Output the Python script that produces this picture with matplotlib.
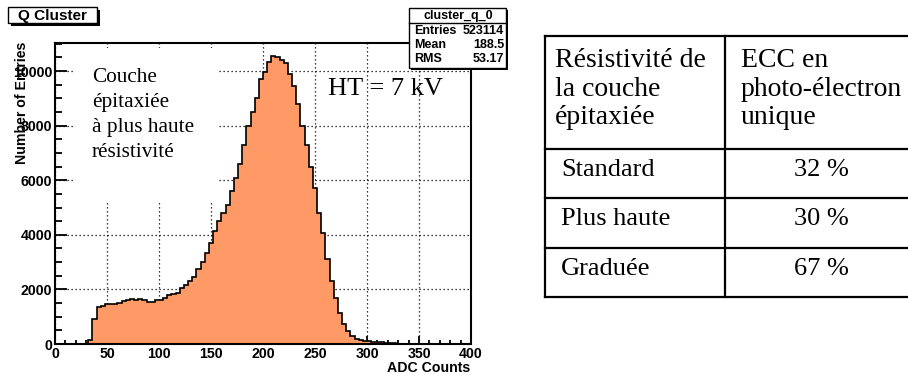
import numpy as np
import matplotlib
matplotlib.use('Agg')
import matplotlib.pyplot as plt
from matplotlib.patches import Rectangle
from matplotlib.ticker import MultipleLocator

# histogram (4 ADC-count bins from 0 to 400)
bin_edges = np.arange(0, 404, 4)
counts = [0, 0, 0, 0, 0, 0, 0, 0,
          150, 900, 1350, 1400, 1450, 1470, 1480, 1500,
          1580, 1620, 1640, 1600, 1640, 1600, 1530, 1530,
          1620, 1620, 1680, 1780, 1820, 1880, 2050, 2150,
          2300, 2450, 2750, 3000, 3350, 3700, 4150, 4500,
          4800, 5100, 5600, 6100, 6600, 7300, 8000, 8500,
          9000, 9700, 9950, 10350, 10550, 10500, 10400, 10300,
          9900, 9450, 8800, 8000, 7300, 6500, 5700, 4800,
          4050, 3100, 2300, 1700, 1150, 750, 480, 300,
          180, 140, 120, 100, 85, 70, 55, 35,
          25, 20, 12, 12, 12, 12, 12, 12,
          12, 12, 12, 12, 12, 12, 12, 12,
          12, 12, 0, 0]

stats_labels = ['Entries', 'Mean', 'RMS']
stats_values = ['523114', '188.5', '53.17']

table_header = ['Résistivité de\nla couche\népitaxiée', 'ECC en\nphoto-électron\nunique']
table_rows = ['Standard', 'Plus haute', 'Graduée']
table_ecc = ['32 %', '30 %', '67 %']

W, H = 908, 374
fig = plt.figure(figsize=(W / 100, H / 100), dpi=100)
sans = 'Liberation Sans'
serif = 'Liberation Serif'
lab_size = 10.2

# --- histogram ---
ax = fig.add_axes([55 / W, 1 - 344 / H, 416 / W, 301 / H])
ax.stairs(counts, bin_edges, fill=True, color='#ff9966', zorder=2)
ax.stairs(counts, bin_edges, color='black', lw=1.2, zorder=3)
ax.set_xlim(0, 400)
ax.set_ylim(0, 11030)
ax.xaxis.set_major_locator(MultipleLocator(50))
ax.xaxis.set_minor_locator(MultipleLocator(10))
ax.yaxis.set_major_locator(MultipleLocator(2000))
ax.yaxis.set_minor_locator(MultipleLocator(500))
ax.set_axisbelow(True)
ax.grid(True, which='major', color='black', lw=0.9, linestyle=(0, (1, 2.2)))
ax.tick_params(which='both', direction='in', top=False, right=False, width=1.3)
ax.tick_params(axis='x', which='major', length=6, pad=2.5)
ax.tick_params(axis='x', which='minor', length=3)
ax.tick_params(axis='y', which='major', length=8.5, pad=2)
ax.tick_params(axis='y', which='minor', length=5)
for lab in ax.get_xticklabels() + ax.get_yticklabels():
    lab.set_fontfamily(sans)
    lab.set_fontweight('bold')
    lab.set_fontsize(lab_size)
for sp in ax.spines.values():
    sp.set_linewidth(1.5)

fig.text(22 / W, 1 - 42 / H, 'Number of Entries', rotation=90, ha='center', va='top',
         family=sans, weight='bold', fontsize=lab_size)
fig.text(470 / W, 1 - 368 / H, 'ADC Counts', ha='right', va='center',
         family=sans, weight='bold', fontsize=lab_size)

# --- overlay in pixel coordinates ---
cv = fig.add_axes([0, 0, 1, 1], zorder=5)
cv.set_xlim(0, W)
cv.set_ylim(H, 0)
cv.axis('off')

# white box behind the annotation inside the plot
cv.add_patch(Rectangle((73, 48), 144, 155, fc='white', ec='none'))
for i, line in enumerate(['Couche', 'épitaxiée', 'à plus haute', 'résistivité']):
    cv.text(92, 82 + 25 * i, line, family=serif, fontsize=15.3, va='baseline', ha='left')
cv.text(328, 95, 'HT = 7 kV', family=serif, fontsize=19, va='baseline', ha='left')

# title box
cv.add_patch(Rectangle((11, 10), 89, 16, fc='black', ec='none'))
cv.add_patch(Rectangle((8, 7), 89, 16, fc='white', ec='black', lw=1))
cv.text(52, 15.5, 'Q Cluster', family=sans, weight='bold', fontsize=11,
        ha='center', va='center')

# stats box
cv.add_patch(Rectangle((411, 10), 97, 60, fc='black', ec='none'))
cv.add_patch(Rectangle((409, 8), 97, 60, fc='white', ec='black', lw=1))
cv.plot([409, 506], [23, 23], color='black', lw=1)
cv.text(458, 15.5, 'cluster_q_0', family=sans, weight='bold', fontsize=9,
        ha='center', va='center')
for i, (lab, val) in enumerate(zip(stats_labels, stats_values)):
    cv.text(414, 30.5 + 14.3 * i, lab, family=sans, weight='bold', fontsize=9,
            ha='left', va='center')
    cv.text(504, 30.5 + 14.3 * i, val, family=sans, weight='bold', fontsize=9,
            ha='right', va='center')

# --- table ---
tb = fig.add_axes([545 / W, 1 - 297 / H, 360 / W, 261 / H])
tb.set_xlim(0, 360)
tb.set_ylim(261, 0)
tb.axis('off')
row_lines = [0, 113, 162, 212, 261]
col_lines = [0, 180, 360]
for y in row_lines:
    tb.plot([0, 362], [y, y], color='black', lw=1.6, solid_capstyle='projecting', clip_on=False)
for x in col_lines[:2]:
    tb.plot([x, x], [0, 261], color='black', lw=1.6, solid_capstyle='projecting', clip_on=False)

for j, head in enumerate(table_header):
    for i, line in enumerate(head.split('\n')):
        tb.text(col_lines[j] + (10 if j == 0 else 16), 31 + 28.5 * i, line,
                family=serif, fontsize=20, va='baseline', ha='left')
for i, (name, val) in enumerate(zip(table_rows, table_ecc)):
    top = row_lines[i + 1]
    tb.text(16, top + 27, name, family=serif, fontsize=19, va='baseline', ha='left')
    tb.text(276, top + 27, val, family=serif, fontsize=19, va='baseline', ha='center')

fig.savefig('out.png', dpi=100)
